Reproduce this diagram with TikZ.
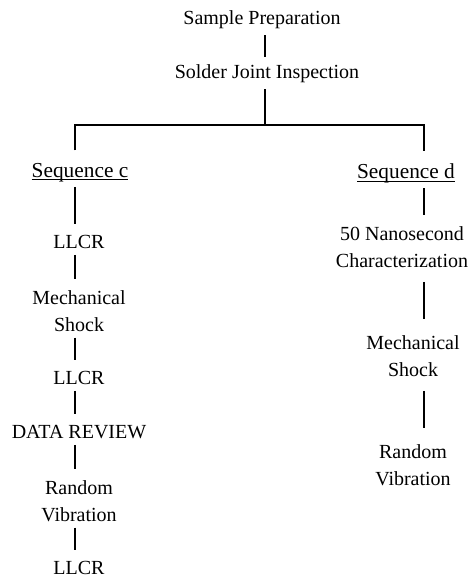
\documentclass[tikz,border=0pt]{standalone}
\usepackage{fontspec}
\setmainfont{Liberation Serif}
\usetikzlibrary{positioning}

\begin{document}
\begin{tikzpicture}[x=0.6pt, y=-0.6pt,
    stage/.style={align=center, inner sep=3.5pt, font=\fontsize{12}{16}\selectfont},
    heading/.style={stage, font=\fontsize{12.8}{16}\selectfont},
    link/.style={line width=0.9pt, shorten >=3pt}]

    \useasboundingbox (0,0) rectangle (471,582);

    % Common steps
    \node[stage] (prep) at (262,20) {Sample Preparation};
    \node[stage] (solder) at (267,74) {Solder Joint Inspection};

    % Sequence headings
    \node[heading] (seqc) at (80,172) {\underline{\raisebox{0pt}[\height][0pt]{Sequence c}}};
    \node[heading] (seqd) at (406,173) {\underline{\raisebox{0pt}[\height][0pt]{Sequence d}}};

    % Sequence c
    \node[stage] (llcra) at (79,242) {LLCR};
    \node[stage] (shocka) at (79,311) {Mechanical\\Shock};
    \node[stage] (llcrb) at (79,378) {LLCR};
    \node[stage] (review) at (79,432) {DATA REVIEW};
    \node[stage] (vibra) at (79,501) {Random\\Vibration};
    \node[stage] (llcrc) at (79,568) {LLCR};

    % Sequence d
    \node[stage] (nano) at (402,247) {50 Nanosecond\\Characterization};
    \node[stage] (shockd) at (413,356) {Mechanical\\Shock};
    \node[stage] (vibrd) at (413,465) {Random\\Vibration};

    % Split point and column lines
    \coordinate (split) at (265,125);
    \coordinate (lcol) at (75,0);
    \coordinate (rcol) at (424,0);

    % Connectors
    \draw[link, shorten >=1pt] (prep.south -| split) -- (solder.north -| split);
    \draw[line width=0.9pt] (solder.south -| split) -- (split);
    \draw[line width=0.9pt, shorten <=4pt, shorten >=4pt] (seqc.north -| lcol) |- (split) -| (seqd.north -| rcol);
    \foreach \a/\b in {seqc/llcra, llcra/shocka, shocka/llcrb, llcrb/review, review/vibra, vibra/llcrc}
        \draw[link] (\a.south -| lcol) -- (\b.north -| lcol);
    \draw[link] (seqd.south -| rcol) -- (nano.north -| rcol);
    \foreach \a/\b in {nano/shockd, shockd/vibrd}
        \draw[link, shorten <=5pt, shorten >=6pt] (\a.south -| rcol) -- (\b.north -| rcol);
\end{tikzpicture}
\end{document}
